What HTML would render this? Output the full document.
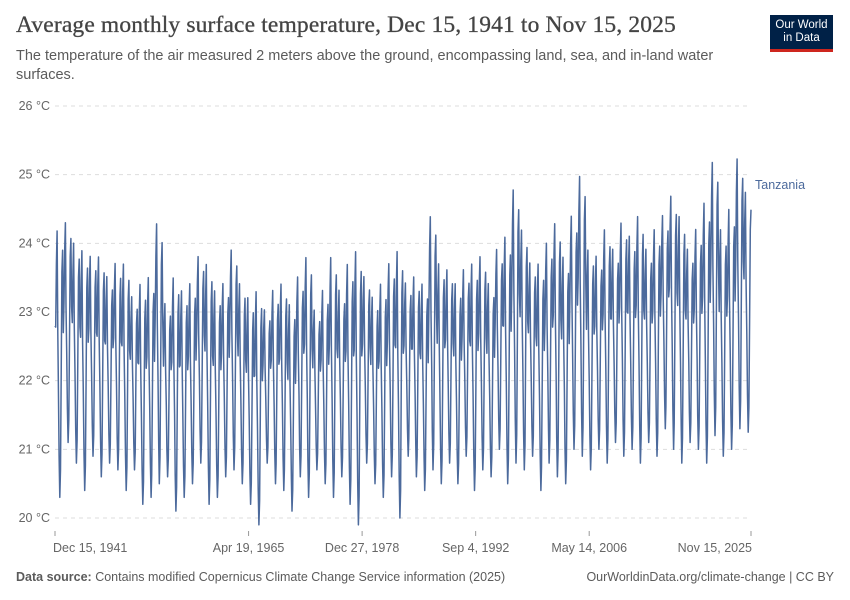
<!DOCTYPE html>
<html><head><meta charset="utf-8"><style>
body{margin:0;width:850px;height:600px;background:#fff;font-family:"Liberation Sans",sans-serif;overflow:hidden;position:relative}
.t{position:absolute;white-space:nowrap}
</style></head><body>
<div class="t" style="left:16px;top:12px;font-family:'Liberation Serif',serif;font-size:23.5px;color:#444;letter-spacing:0.15px;-webkit-text-stroke:0.3px #444">Average monthly surface temperature, Dec 15, 1941 to Nov 15, 2025</div>
<div class="t" style="left:16px;top:47px;font-size:14.5px;color:#5b5b5b;line-height:19px;white-space:normal;width:730px">The temperature of the air measured 2 meters above the ground, encompassing land, sea, and in-land water surfaces.</div>
<div style="position:absolute;left:770px;top:15px;width:63px;height:37px;background:#002147;border-bottom:3px solid #ce261e;color:#fff;font-size:11.5px;line-height:13px;text-align:center;padding-top:4px;box-sizing:border-box">Our World<br>in Data</div>
<svg id="chart" width="850" height="600" style="position:absolute;left:0;top:0"></svg>
<div class="t" style="left:16px;top:570px;font-size:12.5px;color:#5b5b5b"><b>Data source:</b> Contains modified Copernicus Climate Change Service information (2025)</div>
<div class="t" style="right:16px;top:570px;font-size:12.5px;color:#5b5b5b">OurWorldinData.org/climate-change | CC BY</div>
<script>
const yTicks=[20,21,22,23,24,25,26];
const xTickLabels=["Dec 15, 1941","Apr 19, 1965","Dec 27, 1978","Sep 4, 1992","May 14, 2006","Nov 15, 2025"];
const xTickYears=[1941.96,1965.3,1978.99,1992.68,2006.37,2025.88];
const startYear=1942;
const annualPeak=[24.3,24.4,24.1,24.0,23.9,23.9,23.6,23.8,
23.8,23.3,23.5,23.6,24.4,23.2,23.6,23.4,23.5,23.9,
23.8,23.4,23.5,24.0,23.5,23.3,23.4,23.1,23.4,23.5,
23.2,23.6,23.9,23.1,23.4,23.9,23.4,23.8,24.0,23.6,
23.3,23.5,23.8,24.0,23.5,23.6,23.5,24.5,23.8,23.7,
23.5,23.7,23.8,23.9,23.5,24.0,24.2,24.9,24.3,23.8,
23.8,24.1,24.4,23.9,24.5,25.1,24.0,23.9,24.3,24.0,
24.4,24.2,24.5,24.0,24.3,24.5,24.8,24.5,24.0,24.3,
24.7,25.3,24.3,24.6,25.35,24.85];
const annualTrough=[20.3,21.1,20.8,20.4,20.9,20.6,20.8,20.7,
20.4,20.7,20.2,20.3,20.5,20.6,20.1,20.3,20.5,20.8,
20.2,20.3,20.6,20.7,20.5,20.2,19.9,20.8,20.5,20.4,
20.1,20.6,20.3,20.7,20.5,20.3,20.6,20.2,19.9,20.8,
20.5,20.3,20.6,20.0,20.9,20.6,20.4,20.7,20.5,20.8,
20.5,20.9,20.4,20.7,20.6,21.0,20.5,20.8,20.7,20.9,
20.4,20.8,20.6,20.5,21.0,20.9,20.7,21.0,20.8,21.1,
20.9,21.0,20.8,21.1,20.9,21.3,21.0,20.8,21.1,21.0,
20.8,21.2,20.9,21.0,21.3,21.25];
const seasonShape=[0.62,0.85,0.97,0.6,0.4,0.15,0.0,0.1,0.45,0.82,0.9,0.6];
const firstValue=22.8;

const X0=55,X1=751,T0=1941.96,T1=2025.88,Y0=518,Y1=106;
const xs=t=>X0+(t-T0)/(T1-T0)*(X1-X0);
const ys=v=>Y0-(v-20)/(26-20)*(Y0-Y1);
const svg=document.getElementById('chart');const NS='http://www.w3.org/2000/svg';
function mk(tag,attrs){const e=document.createElementNS(NS,tag);for(const k in attrs)e.setAttribute(k,attrs[k]);svg.appendChild(e);return e;}
yTicks.forEach(v=>{
 const g=mk('line',{x1:55,x2:750,y1:ys(v),y2:ys(v),stroke:'#dddddd','stroke-dasharray':'4,4'});
 
 
 const l=mk('text',{x:50,y:ys(v)+4,'text-anchor':'end','font-size':'12.5','fill':'#666','font-family':'Liberation Sans, sans-serif'});
 l.textContent=v+' °C';
 
 
});
xTickYears.forEach((t,i)=>{
 const tk=mk('line',{x1:xs(t),x2:xs(t),y1:531,y2:536,stroke:'#999'});
 
 
 let anchor='middle',x=xs(t);
 if(i==0){anchor='start';x=53;} if(i==xTickYears.length-1){anchor='end';x=752;}
 const l=mk('text',{x:x,y:552,'text-anchor':anchor,'font-size':'12.5','fill':'#666','font-family':'Liberation Sans, sans-serif'});
 l.textContent=xTickLabels[i];
 
 
});
const pts=[[xs(T0),ys(firstValue)]];
for(let y=0;y<annualPeak.length;y++){
 for(let m=0;m<12;m++){
  const t=startYear+y+(m+0.5)/12;
  if(t>T1+0.01)break;
  const v=annualTrough[y]+seasonShape[m]*(annualPeak[y]-annualTrough[y]);
  pts.push([xs(t),ys(v)]);
 }
}
const p=mk('path',{d:'M'+pts.map(q=>q[0].toFixed(1)+','+q[1].toFixed(1)).join('L'),fill:'none',stroke:'#4c6a9c','stroke-width':'1.5','stroke-linejoin':'round'});


const lab=mk('text',{x:755,y:189,'font-size':'12.5','fill':'#4c6a9c','font-family':'Liberation Sans, sans-serif'});
lab.textContent='Tanzania';


</script>
</body></html>
